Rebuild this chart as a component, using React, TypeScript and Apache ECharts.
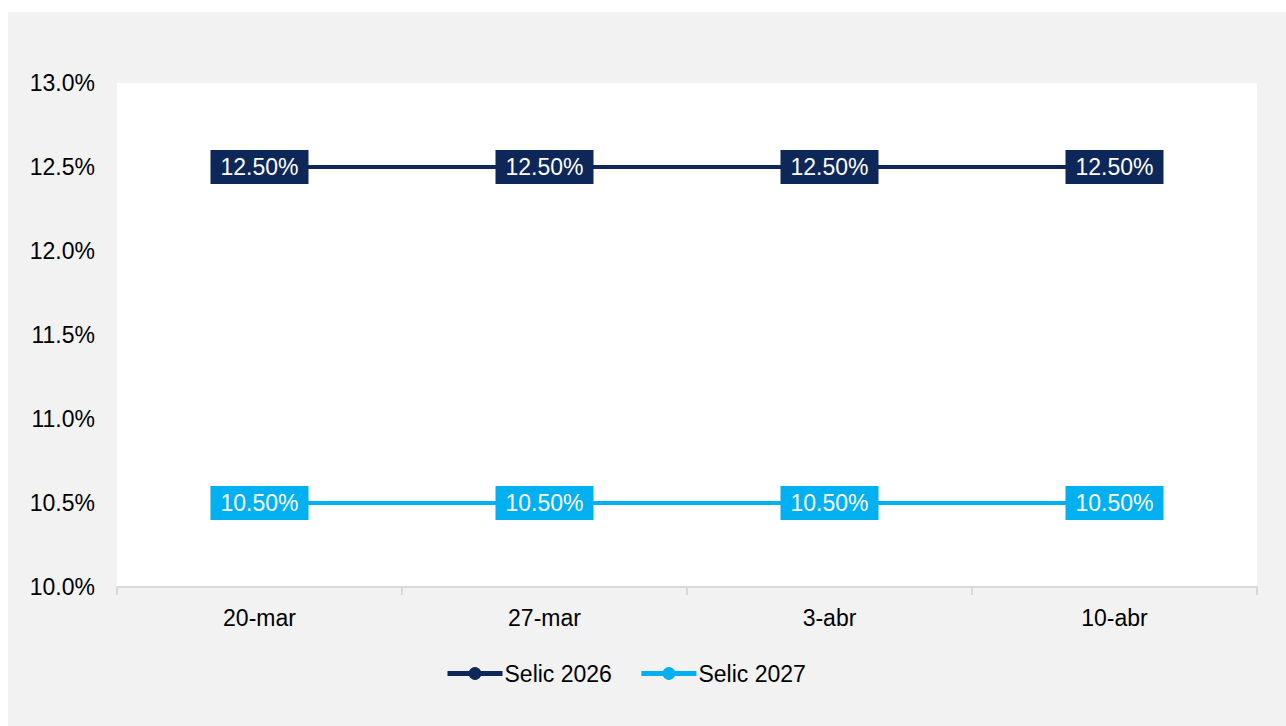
import React, { useEffect, useRef } from "react";
import * as echarts from "echarts";

const categories = ["20-mar", "27-mar", "3-abr", "10-abr"];
const selic2026 = [12.5, 12.5, 12.5, 12.5];
const selic2027 = [10.5, 10.5, 10.5, 10.5];
const seriesNames = ["Selic 2026", "Selic 2027"];
const yMin = 10.0;
const yMax = 13.0;
const yInterval = 0.5;

const NAVY = "#0D2758";
const LIGHT = "#00B0F0";
const FONT = "'Liberation Sans', Arial, sans-serif";

export default function App() {
  const ref = useRef<HTMLDivElement>(null);
  useEffect(() => {
    if (!ref.current) return;
    const chart = echarts.init(ref.current, null, { renderer: "svg" });
    const mkSeries = (name: string, data: number[], color: string) => ({
      name,
      type: "line",
      data,
      symbol: "circle",
      symbolSize: 10,
      lineStyle: { color, width: 4 },
      itemStyle: { color },
      label: {
        show: true,
        position: "inside",
        formatter: (p: any) => p.value.toFixed(2) + "%",
        color: "#fff",
        fontFamily: FONT,
        fontSize: 23,
        lineHeight: 24,
        backgroundColor: color,
        padding: [6, 10, 4, 10],
      },
    });
    chart.setOption({
      animation: false,
      backgroundColor: "#F2F2F2",
      textStyle: { fontFamily: FONT },
      grid: { left: 109, top: 71, right: 29, bottom: 139, containLabel: false, show: true, backgroundColor: "#FFFFFF", borderWidth: 0 },
      legend: {
        bottom: 36,
        left: 432,
        itemWidth: 55,
        itemHeight: 16,
        itemGap: 27,
        lineStyle: { width: 5 },
        textStyle: { fontFamily: FONT, fontSize: 23, color: "#000", padding: [0, 0, 0, -3] },
        data: seriesNames,
      },
      xAxis: {
        type: "category",
        data: categories,
        boundaryGap: true,
        axisLine: { show: true, lineStyle: { color: "#D9D9D9", width: 2 } },
        axisTick: { show: true, length: 8, lineStyle: { color: "#D9D9D9", width: 2 } },
        axisLabel: { color: "#000", fontSize: 23, fontFamily: FONT, margin: 19 },
        splitLine: { show: false },
      },
      yAxis: {
        type: "value",
        min: yMin,
        max: yMax,
        interval: yInterval,
        axisLine: { show: false },
        axisTick: { show: false },
        splitLine: { show: false },
        axisLabel: {
          color: "#000",
          fontSize: 23,
          fontFamily: FONT,
          margin: 22,
          formatter: (v: number) => v.toFixed(1) + "%",
        },
      },
      series: [mkSeries(seriesNames[0], selic2026, NAVY), mkSeries(seriesNames[1], selic2027, LIGHT)],
    });
    return () => chart.dispose();
  }, []);
  return (
    <div
      ref={ref}
      style={{ position: "absolute", left: 8, top: 12, width: 1278, height: 714 }}
    />
  );
}
